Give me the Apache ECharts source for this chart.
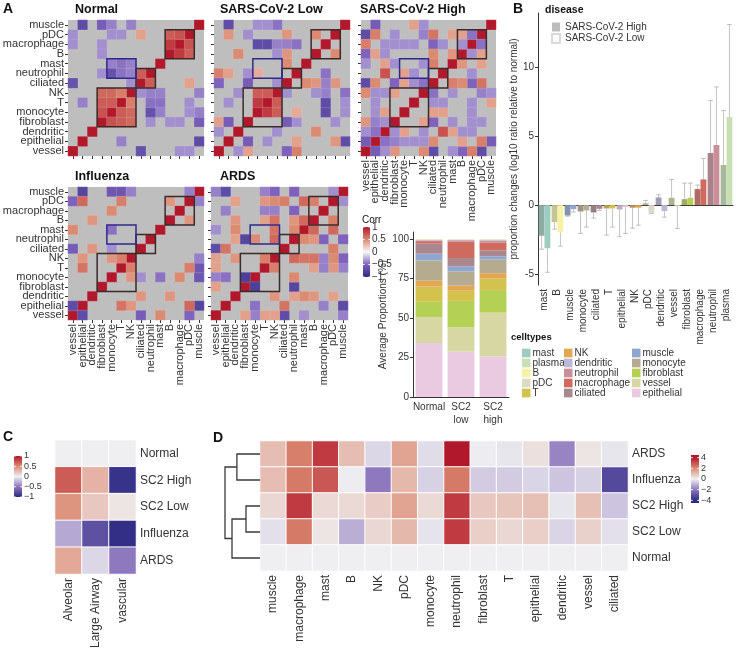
<!DOCTYPE html>
<html><head><meta charset="utf-8">
<script src="https://cdn.jsdelivr.net/npm/echarts@6/dist/echarts.min.js"></script>
<style>html,body{margin:0;padding:0;background:#fff}#c{width:739px;height:653px}</style>
</head><body><div id="c"></div>
<script>
// ---------------- DATA ----------------
// cell type order (columns left->right; rows bottom->top)
const cellOrder = ['vessel','epithelial','dendritic','fibroblast','monocyte','T','NK','ciliated','neutrophil','mast','B','macrophage','pDC','muscle'];
// significant correlations [typeA, typeB, r] (indices into cellOrder); diagonal = 1
const corrNormal = [
 [13,1,-0.7],[13,3,-0.55],[13,4,-0.4],[13,6,-0.4],
 [12,0,-0.35],[12,4,-0.35],[12,5,-0.35],[12,7,0.4],[12,10,0.7],[12,11,0.75],
 [11,0,-0.35],[11,3,-0.35],[11,10,0.85],[10,3,-0.35],
 [9,4,-0.4],[9,5,-0.45],[9,6,-0.4],
 [8,3,-0.35],[8,4,-0.65],[8,5,-0.45],[8,6,-0.4],[8,7,0.7],
 [7,0,-0.65],[7,6,-0.35],
 [6,3,0.65],[6,4,0.65],[6,5,0.55],
 [5,1,-0.4],[5,3,0.7],[5,4,0.7],[4,3,0.75]
];
const corrLow = [
 [13,1,-0.7],[13,4,-0.35],[13,6,-0.45],[13,5,-0.35],
 [12,1,0.45],[12,3,-0.35],[12,7,0.45],[12,10,0.5],
 [11,4,-0.7],[11,5,-0.7],[11,6,-0.4],[11,7,-0.4],[11,8,-0.45],
 [10,2,0.5],[10,7,0.45],[10,6,-0.35],[9,7,0.5],
 [8,0,0.55],[8,1,0.4],[8,3,-0.35],[8,4,0.35],
 [7,0,-0.5],[7,3,-0.55],[7,6,-0.35],
 [6,2,-0.35],[6,4,0.7],[6,5,0.7],
 [5,1,-0.35],[5,4,0.85],[3,0,0.4],[3,1,-0.55],[2,0,-0.35]
];
const corrHigh = [
 [13,1,-0.55],[13,5,0.4],[13,6,-0.35],
 [12,0,-0.7],[12,1,0.55],[12,3,-0.35],[12,6,-0.4],[12,7,0.6],[12,9,0.4],[12,10,0.4],[12,11,-0.45],
 [11,0,0.55],[11,2,-0.35],[11,3,-0.35],[11,4,-0.35],[11,5,-0.35],[11,7,-0.5],[11,8,-0.35],[11,10,-0.35],
 [10,0,-0.5],[10,1,0.4],[10,2,-0.35],[10,7,0.5],[10,9,0.45],
 [9,0,-0.35],[9,2,0.4],[9,3,-0.35],[9,6,-0.35],[9,7,0.55],
 [8,2,0.75],[8,4,0.4],[8,5,-0.35],
 [7,0,-0.7],[7,1,0.5],[7,3,-0.5],[7,4,0.4],[7,5,-0.35],[7,6,-0.45],
 [6,0,0.5],[6,1,-0.35],[6,2,-0.35],[6,3,0.4],
 [5,1,-0.35],[4,1,-0.35],[4,2,0.4],
 [3,0,0.45],[3,1,-0.4],[3,2,-0.35],[2,0,-0.35],[2,1,-0.45],[1,0,-0.55]
];
const corrFlu = [
 [13,1,-0.75],[13,4,-0.6],[13,5,-0.6],[13,6,-0.4],[13,12,-0.4],
 [12,0,-0.5],[12,1,0.65],[12,5,0.55],[12,10,0.45],
 [11,4,0.5],[10,2,0.45],[9,0,0.5],[9,4,-0.45],
 [7,0,-0.55],[7,2,0.45],[7,4,-0.35],
 [6,1,0.45],[6,4,0.45],[6,5,0.55],[5,1,0.6],[1,0,-0.7]
];
const corrARDS = [
 [13,0,-0.4],[13,1,-0.7],[13,5,-0.4],[13,6,-0.5],[13,8,-0.5],[13,12,-0.35],
 [12,2,0.4],[12,5,0.45],[12,6,0.5],[12,7,0.55],[12,9,0.65],[12,10,0.55],
 [11,1,-0.4],[11,5,-0.4],[11,6,-0.4],[11,8,-0.5],
 [10,2,0.45],[10,5,0.4],[10,6,0.6],[10,8,0.45],[10,9,0.65],
 [9,0,-0.35],[9,2,0.5],[9,6,0.6],[9,8,0.5],
 [8,2,0.4],[8,3,-0.75],[8,4,0.5],[8,6,0.65],
 [7,0,-0.7],[7,1,0.6],
 [6,0,0.4],[6,2,0.45],[6,5,0.55],[5,0,0.4],
 [4,0,-0.4],[4,1,-0.45],[4,3,-0.8],[3,0,0.4]
];
// cluster boxes [colFrom, colTo, rowFrom, rowTo, kind(0 black,1 blue)]
const clusterBoxes = [[3,6,3,6,0],[7,8,7,8,0],[10,12,10,12,0],[4,6,8,9,1]];
const corrTicks = [1,0.5,0,-0.5,-1];

// average proportions (stack from bottom)
const stackGroups = ['Normal','SC2\nlow','SC2\nhigh'];
const stackOrder = ['epithelial','vessel','fibroblast','T','NK','monocyte','muscle','ciliated','macrophage','neutrophil','dendritic','pDC','B','plasma','mast'];
const stackValues = [
 [34.2,28.8,25.6],[16.4,15.4,27.8],[9.7,16.7,14.3],[9.6,6.4,7.5],[3.8,3.2,3.2],
 [12.8,9.0,8.6],[4.3,3.2,2.1],[6.4,5.3,3.8],[1.5,10.3,5.0],[0.5,1.0,1.2],
 [0.3,0.3,0.3],[0.2,0.1,0.2],[0.2,0.2,0.2],[0.05,0.05,0.1],[0.1,0.05,0.1]
];
const legendCol1 = ['mast','plasma','B','pDC','T'];
const legendCol2 = ['NK','dendritic','neutrophil','macrophage','ciliated'];
const legendCol3 = ['muscle','monocyte','fibroblast','vessel','epithelial'];
const propTicks = [0,25,50,75,100];

// panel B
const bCats = ['mast','B','muscle','monocyte','ciliated','T','epithelial','NK','pDC','dendritic','vessel','fibroblast','macrophage','neutrophil','plasma'];
const bHigh = [-2.22,-1.23,-0.75,-0.46,-0.53,-0.24,-0.31,-0.19,0.14,0.56,0.53,0.43,1.16,3.77,2.90];
const bLow  = [-3.12,-1.96,-0.29,-0.39,-0.27,-0.24,-0.14,-0.19,-0.56,-0.43,-0.07,0.53,1.86,4.35,6.38];
const bHighErr = [-3.19,-1.74,-0.80,-2.05,-0.94,-2.17,-2.29,-1.67,0.34,0.75,1.86,1.59,1.45,7.56,6.84];
const bLowErr  = [-4.86,-2.97,-0.50,-1.59,-0.39,-1.59,-2.05,-1.45,-0.60,-0.87,-1.69,1.59,3.38,8.55,13.07];
const bTicks = [-5,0,5,10];

// panel C
const cRows = ['Normal','SC2 High','SC2 Low','Influenza','ARDS'];
const cCols = ['Alveolar','Large Airway','vascular'];
const cAlveolar = [0,0.7,0.45,-0.3,0.35];
const cLargeAirway = [0,0.3,0.2,-0.75,-0.1];
const cVascular = [0,-0.95,0.05,-0.97,-0.5];
const cTicks = [1,0.5,0,-0.5,-1];

// panel D
const dRows = ['ARDS','Influenza','SC2 High','SC2 Low','Normal'];
const dCols = ['muscle','macrophage','mast','B','NK','pDC','monocyte','neutrophil','fibroblast','T','epithelial','dendritic','vessel','ciliated'];
const dARDS      = [1.0,2.2,3.4,1.0,-0.4,1.5,-0.3,4.0,-0.05,-0.15,0.3,-1.8,0.2,-0.15];
const dInfluenza = [1.0,2.3,2.9,-0.05,-2.0,1.1,-0.5,2.3,-0.6,-0.6,-0.45,-0.7,-0.5,-3.2];
const dHigh      = [0.5,3.4,0.45,0.45,0.7,1.5,0.45,3.4,0.8,0.85,0.95,-0.15,0.95,-0.7];
const dLow       = [-0.25,2.3,0.2,-1.1,0.5,1.1,-0.2,3.4,0.65,0.5,0.65,-0.45,0.6,-0.25];
const dNormal    = [0,0,0,0,0,0,0,0,0,0,0,0,0,0];
// dendrogram merges [rowA, heightA, rowB, heightB, mergeHeight]
const dendroMerges = [[0,0,1,0,6.6],[2,0,3,0,4.0],[2.5,4.0,4,0,8.0],[0.5,6.6,3.25,8.0,10]];
const dTicks = [4,2,0,-2,-4];

// ---------------- STYLE ----------------
const FONT = 'Liberation Sans, Arial, Helvetica, sans-serif';
const TXT = '#333';
const cellColors = {mast:'#9ECDC0',plasma:'#C9E0B4',B:'#F5F2A5',pDC:'#DCD9C5',T:'#D4C24E',NK:'#E3A752',
 dendritic:'#BDB6DB',neutrophil:'#C98E98',macrophage:'#CF6A5F',ciliated:'#A8878F',muscle:'#8FA6D0',
 monocyte:'#B5AB8F',fibroblast:'#B5D155',vessel:'#D6D7A3',epithelial:'#EACAE0'};
const corrStopVals = [-1,-0.5,0,0.5,1];
const corrCols = ['#2D2A84','#7E62BC','#F7F7F7','#DC8B73','#B2182B'];
const cdCols = ['#2D2A84','#8E78BE','#EFEFF1','#DC8B73','#B2182B'];

function mix(a,b,t){const pa=parseInt(a.slice(1),16),pb=parseInt(b.slice(1),16);
 const ch=s=>Math.round(((pa>>s)&255)*(1-t)+((pb>>s)&255)*t);
 return 'rgb('+ch(16)+','+ch(8)+','+ch(0)+')';}

function buildCorr(pairs){const out=[];for(let i=0;i<cellOrder.length;i++)out.push([i,i,1]);
 pairs.forEach(p=>{out.push([p[1],p[0],p[2]]);out.push([p[0],p[1],p[2]]);});return out;}

const grids = [
 {left:68,top:20,width:136,height:136},
 {left:214,top:20,width:136,height:136},
 {left:361,top:20,width:135,height:136},
 {left:68,top:187,width:136,height:133},
 {left:211,top:187,width:137,height:133},
 {left:413,top:232,width:96,height:165},
 {left:538,top:13,width:195,height:272},
 {left:55,top:440,width:81,height:134},
 {left:260,top:441,width:368,height:130},
 {left:225,top:441,width:35,height:130}
].map((g,i)=>Object.assign({containLabel:false,outerBoundsMode:'none'},g,
  i<5?{show:true,backgroundColor:'#BEBEBE',borderWidth:0}:{}));

const xAxes=[],yAxes=[],series=[];
const matrices=[{p:corrNormal,xl:false,yl:true},{p:corrLow,xl:false,yl:false},{p:corrHigh,xl:true,yl:false},
 {p:corrFlu,xl:true,yl:true},{p:corrARDS,xl:true,yl:false}];
const heatIdx=[];
matrices.forEach((m,gi)=>{
 xAxes.push({gridIndex:gi,type:'category',data:cellOrder,axisLine:{show:false},
  axisTick:{show:true,alignWithLabel:true,length:3,interval:0,lineStyle:{color:'#333'}},
  axisLabel:{show:m.xl,rotate:90,interval:0,fontSize:11,color:TXT,margin:4,fontFamily:FONT},splitLine:{show:false}});
 yAxes.push({gridIndex:gi,type:'category',data:cellOrder,axisLine:{show:false},
  axisTick:{show:true,alignWithLabel:true,length:3,interval:0,lineStyle:{color:'#333'}},
  axisLabel:{show:m.yl,interval:0,fontSize:11,color:TXT,margin:4,fontFamily:FONT},splitLine:{show:false}});
 heatIdx.push(series.length);
 series.push({type:'heatmap',xAxisIndex:gi,yAxisIndex:gi,data:buildCorr(m.p),
  itemStyle:{borderColor:'rgba(255,255,255,0.25)',borderWidth:0.5},emphasis:{disabled:true},silent:true});
 series.push({type:'custom',xAxisIndex:gi,yAxisIndex:gi,data:clusterBoxes,z:5,silent:true,
  encode:{x:[0,1],y:[2,3]},
  renderItem:(params,api)=>{const p0=api.coord([api.value(0),api.value(2)]),p1=api.coord([api.value(1),api.value(3)]);
   const s=api.size([1,1]);const l=Math.min(p0[0],p1[0])-s[0]/2,r=Math.max(p0[0],p1[0])+s[0]/2;
   const t=Math.min(p0[1],p1[1])-s[1]/2,b=Math.max(p0[1],p1[1])+s[1]/2;
   return {type:'rect',shape:{x:l,y:t,width:r-l,height:b-t},
    style:{fill:null,stroke:api.value(4)?'#2E2A8C':'#3A2B2B',lineWidth:1.5}};}});
});

// stacked proportions (grid 5)
xAxes.push({gridIndex:5,type:'category',data:stackGroups,axisLine:{lineStyle:{color:'#333'}},
 axisTick:{alignWithLabel:true,length:3,lineStyle:{color:'#333'}},
 axisLabel:{interval:0,fontSize:10,color:TXT,margin:4,lineHeight:13,fontFamily:FONT}});
yAxes.push({gridIndex:5,type:'value',min:0,max:104.5,splitLine:{show:false},
 name:'Average Proportions (%)',nameLocation:'middle',nameGap:23,
 nameTextStyle:{fontSize:10,color:TXT,fontFamily:FONT},
 axisLine:{show:true,lineStyle:{color:'#333'}},
 axisTick:{show:true,length:3,customValues:propTicks,lineStyle:{color:'#333'}},
 axisLabel:{fontSize:10,color:TXT,margin:4,customValues:propTicks,fontFamily:FONT}});
stackOrder.forEach((name,k)=>{
 series.push({type:'bar',name:name,stack:'prop',xAxisIndex:5,yAxisIndex:5,data:stackValues[k],
  barWidth:'84%',itemStyle:{color:cellColors[name]},silent:true});
});

// panel B (grid 6)
xAxes.push({gridIndex:6,type:'category',data:bCats,axisLine:{lineStyle:{color:'#333'}},
 axisTick:{alignWithLabel:true,length:3,interval:0,lineStyle:{color:'#333'}},
 axisLabel:{rotate:90,interval:0,fontSize:10,color:TXT,margin:4,fontFamily:FONT}});
yAxes.push({gridIndex:6,type:'value',min:-5.78,max:13.9,splitLine:{show:false},
 name:'proportion changes (log10 ratio relative to normal)',nameLocation:'middle',nameGap:17,
 nameTextStyle:{fontSize:10,color:TXT,fontFamily:FONT},
 axisLine:{show:true,lineStyle:{color:'#333'}},
 axisTick:{show:true,length:3,customValues:bTicks,lineStyle:{color:'#333'}},
 axisLabel:{fontSize:10,color:TXT,margin:4,customValues:bTicks,fontFamily:FONT}});
function errSeries(vals,errs,side){
 return {type:'custom',xAxisIndex:6,yAxisIndex:6,z:1,silent:true,
  data:vals.map((v,i)=>[i,v,errs[i]]),encode:{x:0,y:[1,2]},
  renderItem:(params,api)=>{const c=api.coord([api.value(0),api.value(1)]),e=api.coord([api.value(0),api.value(2)]);
   const bw=api.size([1,0])[0];const barW=bw*0.9/2;const x=c[0]+side*barW/2;
   return {type:'group',children:[
    {type:'line',shape:{x1:x,y1:c[1],x2:x,y2:e[1]},style:{stroke:'#C4C4C4',lineWidth:1}},
    {type:'line',shape:{x1:x-2.3,y1:e[1],x2:x+2.3,y2:e[1]},style:{stroke:'#BDBDBD',lineWidth:1}}]};}};
}
series.push(errSeries(bHigh,bHighErr,-1));
series.push(errSeries(bLow,bLowErr,1));
series.push({type:'bar',name:'SARS-CoV-2 High',xAxisIndex:6,yAxisIndex:6,z:3,barGap:'0%',barCategoryGap:'10%',silent:true,
 itemStyle:{color:'#BDBDBD'},
 data:bHigh.map((v,i)=>({value:v,itemStyle:{color:mix(cellColors[bCats[i]],'#6E6E6E',0.35),borderWidth:0}}))});
series.push({type:'bar',name:'SARS-CoV-2 Low',xAxisIndex:6,yAxisIndex:6,z:3,barGap:'0%',barCategoryGap:'10%',silent:true,
 itemStyle:{color:'#FBFBFB',borderColor:'#DADADA',borderWidth:0.8},
 data:bLow.map((v,i)=>({value:v,itemStyle:{color:cellColors[bCats[i]],borderWidth:0}}))});

// panel C (grid 7)
xAxes.push({gridIndex:7,type:'category',data:cCols,axisLine:{show:false},axisTick:{show:false},
 axisLabel:{rotate:90,interval:0,fontSize:12,color:TXT,margin:4,fontFamily:FONT}});
yAxes.push({gridIndex:7,type:'category',data:cRows,inverse:true,position:'right',axisLine:{show:false},axisTick:{show:false},
 axisLabel:{interval:0,fontSize:12,color:TXT,margin:4,fontFamily:FONT}});
const cData=[];[cAlveolar,cLargeAirway,cVascular].forEach((col,ci)=>col.forEach((v,ri)=>cData.push([ci,ri,v])));
const cIdx=series.length;
series.push({type:'heatmap',xAxisIndex:7,yAxisIndex:7,data:cData,silent:true,
 itemStyle:{borderColor:'#fff',borderWidth:1},emphasis:{disabled:true}});

// panel D (grid 8)
xAxes.push({gridIndex:8,type:'category',data:dCols,axisLine:{show:false},axisTick:{show:false},
 axisLabel:{rotate:90,interval:0,fontSize:12,color:TXT,margin:4,fontFamily:FONT}});
yAxes.push({gridIndex:8,type:'category',data:dRows,inverse:true,position:'right',axisLine:{show:false},axisTick:{show:false},
 axisLabel:{interval:0,fontSize:12,color:TXT,margin:4,fontFamily:FONT}});
const dData=[];[dARDS,dInfluenza,dHigh,dLow,dNormal].forEach((row,ri)=>row.forEach((v,ci)=>dData.push([ci,ri,v])));
const dIdx=series.length;
series.push({type:'heatmap',xAxisIndex:8,yAxisIndex:8,data:dData,silent:true,
 itemStyle:{borderColor:'#fff',borderWidth:1},emphasis:{disabled:true}});

// dendrogram (grid 9)
xAxes.push({gridIndex:9,type:'value',min:0,max:10,inverse:true,show:false});
yAxes.push({gridIndex:9,type:'value',min:-0.5,max:4.5,inverse:true,show:false});
series.push({type:'custom',xAxisIndex:9,yAxisIndex:9,data:dendroMerges,silent:true,encode:{x:[1,3,4],y:[0,2]},
 renderItem:(params,api)=>{const yA=api.value(0),hA=api.value(1),yB=api.value(2),hB=api.value(3),h=api.value(4);
  const pts=[[hA,yA],[h,yA],[h,yB],[hB,yB]].map(q=>api.coord(q));
  return {type:'polyline',shape:{points:pts},style:{stroke:'#3a3a3a',lineWidth:1.3,fill:null}};}});

// ---------------- GRAPHIC (titles, colorbars) ----------------
function colorbar(x,y,w,h,lo,hi,stopVals,cols,ticks,fs){
 const cs=stopVals.map((v,i)=>({offset:Math.min(1,Math.max(0,(hi-v)/(hi-lo))),color:cols[i]})).sort((a,b)=>a.offset-b.offset);
 const els=[{type:'rect',shape:{x:x,y:y,width:w,height:h},style:{fill:new echarts.graphic.LinearGradient(0,0,0,1,cs)}}];
 ticks.forEach(t=>{const ty=y+(hi-t)/(hi-lo)*h;
  els.push({type:'line',shape:{x1:x,y1:ty,x2:x+w*0.22,y2:ty},style:{stroke:'#fff',lineWidth:1}});
  els.push({type:'line',shape:{x1:x+w*0.78,y1:ty,x2:x+w,y2:ty},style:{stroke:'#fff',lineWidth:1}});
  els.push({type:'text',x:x+w+2,y:ty,style:{text:String(t).replace('-','\u2212'),fontSize:fs,fontFamily:FONT,fill:TXT,verticalAlign:'middle',align:'left'}});
 });
 return els;
}
function label(text,left,top,size,bold){return {type:'text',left:left,top:top,
 style:{text:text,fontSize:size,fontWeight:bold?'bold':'normal',fontFamily:FONT,fill:'#111'}};}
const graphics=[
 label('A',3,2,14,true),label('B',513,2,14,true),label('C',3,430,14,true),label('D',213,431,14,true),
 label('Normal',75,3,12.5,true),label('SARS-CoV-2 Low',220,3,12.5,true),label('SARS-CoV-2 High',360,3,12.5,true),
 label('Influenza',75,170,12.5,true),label('ARDS',220,170,12.5,true),
 label('Corr',362,215,10,false),label('celltypes',511,332,9.5,true),label('disease',545,5,10.5,true)
].concat(colorbar(363,227,7,50,-1,1,corrStopVals,corrCols,corrTicks,10))
 .concat(colorbar(14,456,8,41,-1,1,corrStopVals,cdCols,cTicks,9))
 .concat(colorbar(691,455,8,48,-4.5,4.5,[-4,-2,0,2,4],cdCols,dTicks,9));

function ctLegend(items,left){
 return {data:items,orient:'vertical',left:left,top:343,itemWidth:8.5,itemHeight:8.7,itemGap:0,
  icon:'rect',selectedMode:false,textStyle:{fontSize:10,color:TXT,lineHeight:9.4,padding:[0,0,0,-3],fontFamily:FONT}};
}
const option={
 animation:false,
 textStyle:{fontFamily:FONT},
 grid:grids,xAxis:xAxes,yAxis:yAxes,series:series,
 visualMap:[
  {type:'continuous',show:false,min:-1,max:1,seriesIndex:heatIdx,inRange:{color:corrCols}},
  {type:'continuous',show:false,min:-1,max:1,seriesIndex:[cIdx],inRange:{color:cdCols}},
  {type:'continuous',show:false,min:-4,max:4,seriesIndex:[dIdx],inRange:{color:cdCols}}
 ],
 legend:[
  ctLegend(legendCol1,517),ctLegend(legendCol2,559),ctLegend(legendCol3,627),
  {data:['SARS-CoV-2 High','SARS-CoV-2 Low'],orient:'vertical',left:546,top:17,itemWidth:8,itemHeight:9,itemGap:1,
   icon:'rect',selectedMode:false,textStyle:{fontSize:10,color:TXT,lineHeight:9,fontFamily:FONT}}
 ],
 graphic:{elements:graphics}
};
const chart=echarts.init(document.getElementById('c'),null,{renderer:'canvas',width:739,height:653});
chart.setOption(option);
</script></body></html>
